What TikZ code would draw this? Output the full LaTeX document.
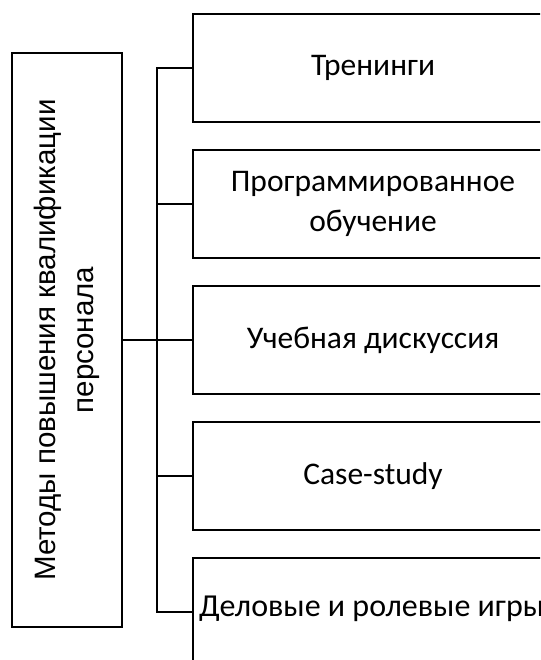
\documentclass[tikz,border=0pt]{standalone}
\usepackage{fontspec}
\setmainfont{Carlito}
\newfontfamily\lefttextfont{Liberation Sans}
\begin{document}
\begin{tikzpicture}[x=1pt,y=-1pt,
  box/.style={draw=black,line width=2pt,minimum width=360pt,minimum height=108pt,inner sep=0pt,anchor=west,align=center,font=\fontsize{31.5}{40}\selectfont},
  conn/.style={draw=black,line width=2pt}]
\useasboundingbox (0,0) rectangle (540,660);
\clip (0,0) rectangle (540,660);
\node[draw=black,line width=2pt,minimum width=110pt,minimum height=574pt,inner sep=0pt,align=center,font=\lefttextfont\fontsize{29.5}{38}\selectfont] (L) at (67,340) {\rotatebox{90}{\begin{tabular}{@{}c@{}}Методы повышения квалификации\\персонала\end{tabular}}};
\node[box] (b1) at (192,68) {Тренинги};
\node[box] (b2) at (192,204) {Программированное\\обучение};
\node[box] (b3) at (192,340) {Учебная дискуссия};
\node[box] (b4) at (192,476) {Case-study};
\node[box] (b5) at (192,612) {};
\node[anchor=west,inner sep=0pt,font=\fontsize{32}{40}\selectfont] (t5) at (199,609) {Деловые и ролевые игры};
\coordinate (bt) at (157,68);
\coordinate (bb) at (157,612);
\draw[conn] (L.east) -- (b3.west);
\draw[conn] (b1.west) -- (bt) -- (bb) -- (b5.west);
\draw[conn] (b2.west) -- (bt |- b2.west);
\draw[conn] (b4.west) -- (bt |- b4.west);
\end{tikzpicture}
\end{document}
